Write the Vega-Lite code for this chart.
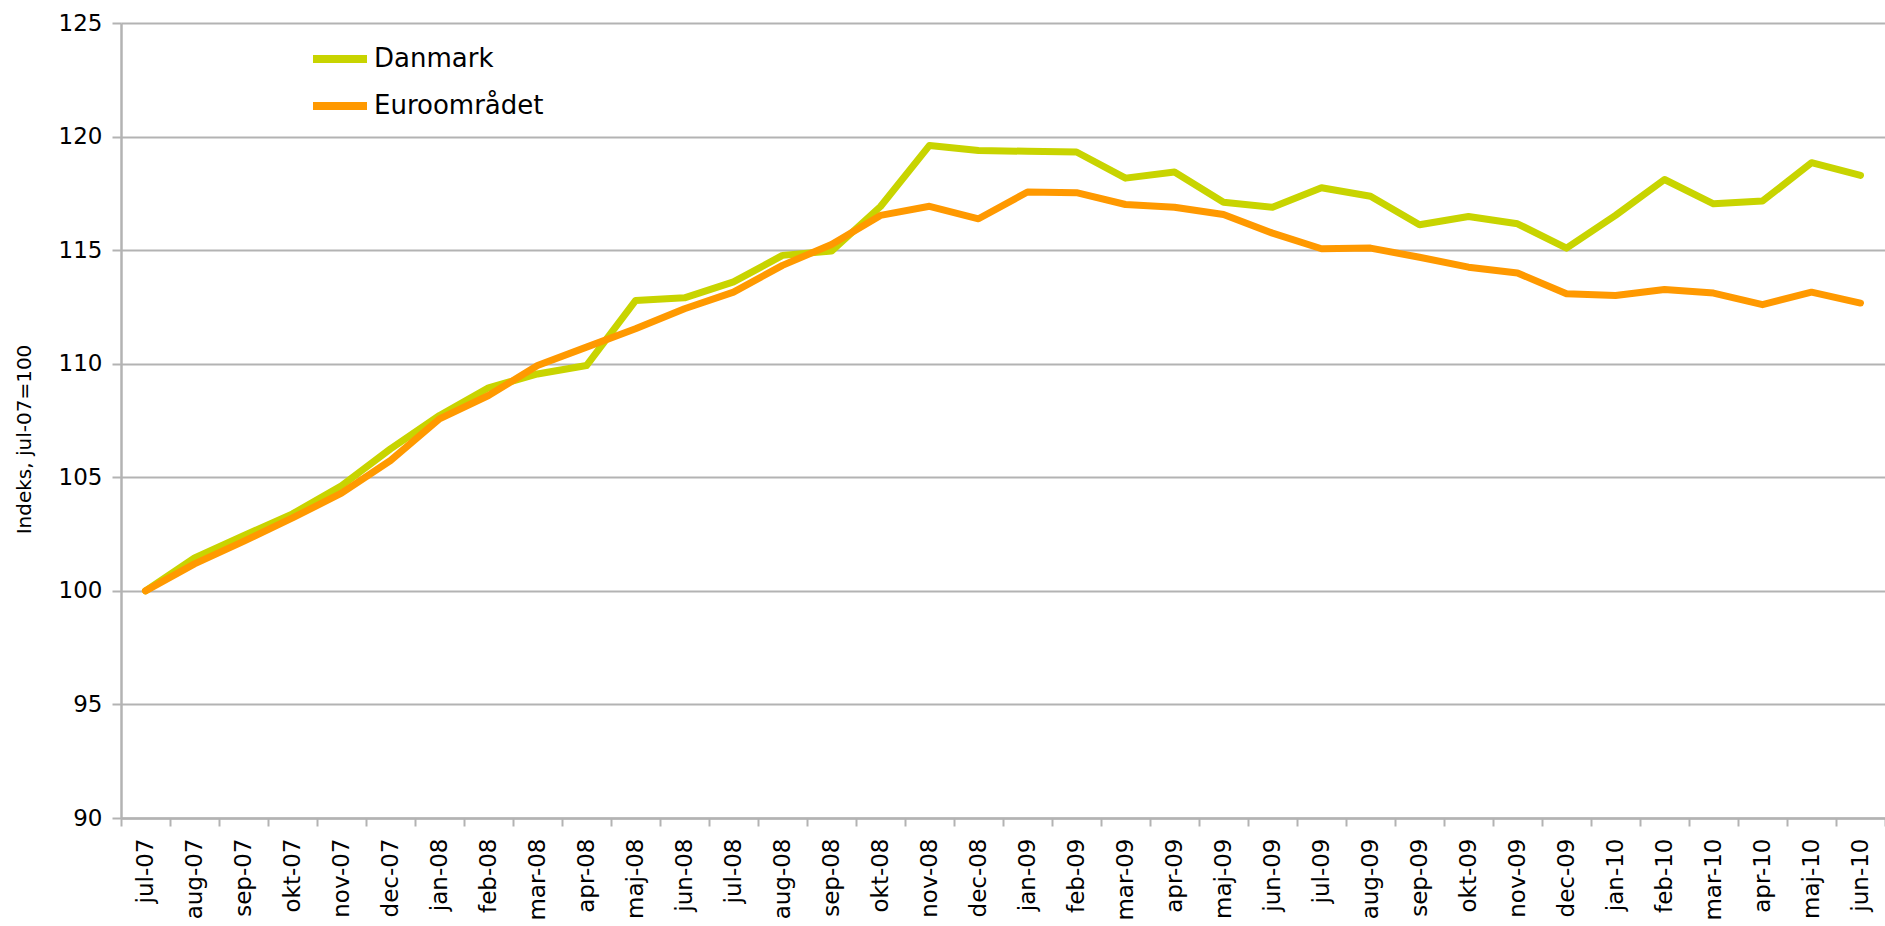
{
  "$schema": "https://vega.github.io/schema/vega-lite/v6.json",
  "width": 1764,
  "height": 795,
  "autosize": {"type": "none"},
  "padding": {"left": 121, "top": 23, "right": 0, "bottom": 108},
  "background": "white",
  "config": {
    "view": {"stroke": null},
    "font": "DejaVu Sans"
  },
  "data": {
    "values": [
      {"m": "jul-07", "s": "Danmark", "v": 100.0},
      {"m": "aug-07", "s": "Danmark", "v": 101.45},
      {"m": "sep-07", "s": "Danmark", "v": 102.43},
      {"m": "okt-07", "s": "Danmark", "v": 103.39},
      {"m": "nov-07", "s": "Danmark", "v": 104.63},
      {"m": "dec-07", "s": "Danmark", "v": 106.25},
      {"m": "jan-08", "s": "Danmark", "v": 107.72},
      {"m": "feb-08", "s": "Danmark", "v": 108.94},
      {"m": "mar-08", "s": "Danmark", "v": 109.55},
      {"m": "apr-08", "s": "Danmark", "v": 109.92},
      {"m": "maj-08", "s": "Danmark", "v": 112.78},
      {"m": "jun-08", "s": "Danmark", "v": 112.9},
      {"m": "jul-08", "s": "Danmark", "v": 113.6},
      {"m": "aug-08", "s": "Danmark", "v": 114.77},
      {"m": "sep-08", "s": "Danmark", "v": 114.96},
      {"m": "okt-08", "s": "Danmark", "v": 116.92},
      {"m": "nov-08", "s": "Danmark", "v": 119.61},
      {"m": "dec-08", "s": "Danmark", "v": 119.39},
      {"m": "jan-09", "s": "Danmark", "v": 119.35},
      {"m": "feb-09", "s": "Danmark", "v": 119.32},
      {"m": "mar-09", "s": "Danmark", "v": 118.17},
      {"m": "apr-09", "s": "Danmark", "v": 118.44},
      {"m": "maj-09", "s": "Danmark", "v": 117.11},
      {"m": "jun-09", "s": "Danmark", "v": 116.89},
      {"m": "jul-09", "s": "Danmark", "v": 117.75},
      {"m": "aug-09", "s": "Danmark", "v": 117.37},
      {"m": "sep-09", "s": "Danmark", "v": 116.12},
      {"m": "okt-09", "s": "Danmark", "v": 116.48},
      {"m": "nov-09", "s": "Danmark", "v": 116.16},
      {"m": "dec-09", "s": "Danmark", "v": 115.09},
      {"m": "jan-10", "s": "Danmark", "v": 116.53},
      {"m": "feb-10", "s": "Danmark", "v": 118.11},
      {"m": "mar-10", "s": "Danmark", "v": 117.04},
      {"m": "apr-10", "s": "Danmark", "v": 117.16},
      {"m": "maj-10", "s": "Danmark", "v": 118.85},
      {"m": "jun-10", "s": "Danmark", "v": 118.29},
      {"m": "jul-07", "s": "Euroområdet", "v": 100.0},
      {"m": "aug-07", "s": "Euroområdet", "v": 101.19},
      {"m": "sep-07", "s": "Euroområdet", "v": 102.18},
      {"m": "okt-07", "s": "Euroområdet", "v": 103.21},
      {"m": "nov-07", "s": "Euroområdet", "v": 104.3},
      {"m": "dec-07", "s": "Euroområdet", "v": 105.74},
      {"m": "jan-08", "s": "Euroområdet", "v": 107.57},
      {"m": "feb-08", "s": "Euroområdet", "v": 108.6},
      {"m": "mar-08", "s": "Euroområdet", "v": 109.92},
      {"m": "apr-08", "s": "Euroområdet", "v": 110.73},
      {"m": "maj-08", "s": "Euroområdet", "v": 111.54},
      {"m": "jun-08", "s": "Euroområdet", "v": 112.42},
      {"m": "jul-08", "s": "Euroområdet", "v": 113.15},
      {"m": "aug-08", "s": "Euroområdet", "v": 114.33},
      {"m": "sep-08", "s": "Euroområdet", "v": 115.25},
      {"m": "okt-08", "s": "Euroområdet", "v": 116.53},
      {"m": "nov-08", "s": "Euroområdet", "v": 116.93},
      {"m": "dec-08", "s": "Euroområdet", "v": 116.38},
      {"m": "jan-09", "s": "Euroområdet", "v": 117.56},
      {"m": "feb-09", "s": "Euroområdet", "v": 117.53},
      {"m": "mar-09", "s": "Euroområdet", "v": 117.01},
      {"m": "apr-09", "s": "Euroområdet", "v": 116.89},
      {"m": "maj-09", "s": "Euroområdet", "v": 116.57},
      {"m": "jun-09", "s": "Euroområdet", "v": 115.75},
      {"m": "jul-09", "s": "Euroområdet", "v": 115.06},
      {"m": "aug-09", "s": "Euroområdet", "v": 115.09},
      {"m": "sep-09", "s": "Euroområdet", "v": 114.69},
      {"m": "okt-09", "s": "Euroområdet", "v": 114.25},
      {"m": "nov-09", "s": "Euroområdet", "v": 113.99},
      {"m": "dec-09", "s": "Euroområdet", "v": 113.08},
      {"m": "jan-10", "s": "Euroområdet", "v": 113.0},
      {"m": "feb-10", "s": "Euroområdet", "v": 113.27},
      {"m": "mar-10", "s": "Euroområdet", "v": 113.11},
      {"m": "apr-10", "s": "Euroområdet", "v": 112.6},
      {"m": "maj-10", "s": "Euroområdet", "v": 113.15},
      {"m": "jun-10", "s": "Euroområdet", "v": 112.67}
    ]
  },
  "mark": {"type": "line", "strokeWidth": 7, "strokeCap": "round", "strokeJoin": "round"},
  "encoding": {
    "x": {
      "field": "m",
      "type": "ordinal",
      "sort": null,
      "bandPosition": 0.5,
      "scale": {"type": "band", "paddingInner": 0, "paddingOuter": 0},
      "axis": {
        "title": null,
        "labelAngle": -90,
        "labelAlign": "right",
        "labelBaseline": "middle",
        "labelFontSize": 23,
        "labelColor": "#000000",
        "labelPadding": 12,
        "tickBand": "extent",
        "tickSize": 8,
        "tickWidth": 2,
        "tickColor": "#B3B3B3",
        "domainColor": "#B3B3B3",
        "domainWidth": 2.5,
        "grid": false,
        "labelOverlap": false
      }
    },
    "y": {
      "field": "v",
      "type": "quantitative",
      "scale": {"domain": [90, 125], "nice": false, "zero": false},
      "axis": {
        "title": "Indeks, jul-07=100",
        "titleFontSize": 20,
        "titleFontWeight": "normal",
        "titleColor": "#000000",
        "titlePadding": 24,
        "titleY": 416,
        "values": [90, 95, 100, 105, 110, 115, 120, 125],
        "labelFontSize": 23,
        "labelColor": "#000000",
        "labelPadding": 10,
        "tickSize": 9,
        "tickWidth": 2,
        "tickColor": "#B3B3B3",
        "domainColor": "#B3B3B3",
        "domainWidth": 2.5,
        "grid": true,
        "gridColor": "#B3B3B3",
        "gridWidth": 2
      }
    },
    "color": {
      "field": "s",
      "type": "nominal",
      "scale": {"domain": ["Danmark", "Euroområdet"], "range": ["#C8D400", "#FF9900"]},
      "legend": {
        "title": null,
        "orient": "none",
        "legendX": 188,
        "legendY": 5,
        "symbolType": "stroke",
        "symbolSize": 2916,
        "symbolStrokeWidth": 8,
        "labelFontSize": 26,
        "labelColor": "#000000",
        "labelLimit": 400,
        "labelOffset": 3,
        "rowPadding": -12,
        "padding": 0
      }
    }
  }
}
